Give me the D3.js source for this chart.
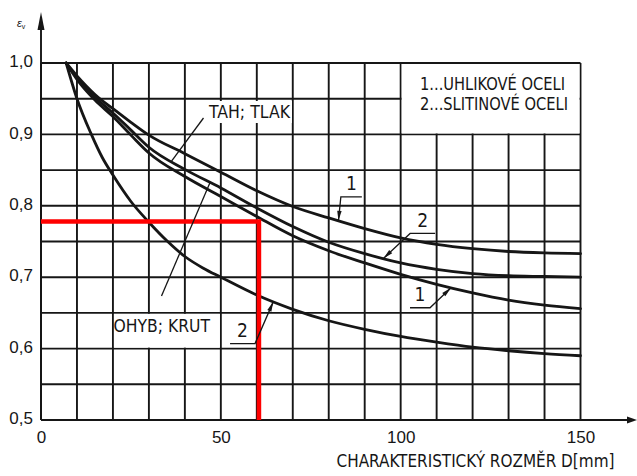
<!DOCTYPE html>
<html>
<head>
<meta charset="utf-8">
<script src="https://cdn.jsdelivr.net/npm/d3@7"></script>
<style>
  html, body { margin: 0; padding: 0; background: #fff; }
  svg { display: block; }
</style>
</head>
<body>
<script>
// Size factor ε_v versus characteristic dimension D [mm]
const sizeD       = [7, 10, 15, 20, 25, 30, 40, 50, 60, 70, 80, 90, 100, 110, 120, 130, 140, 150];
const tahCarbon   = [1.0, 0.982, 0.956, 0.936, 0.917, 0.899, 0.873, 0.847, 0.821, 0.799, 0.783, 0.768, 0.755, 0.746, 0.740, 0.736, 0.734, 0.733];
const tahAlloy    = [1.0, 0.979, 0.952, 0.930, 0.906, 0.882, 0.851, 0.825, 0.797, 0.771, 0.749, 0.733, 0.720, 0.711, 0.705, 0.702, 0.701, 0.700];
const ohybCarbon  = [1.0, 0.977, 0.948, 0.925, 0.899, 0.874, 0.841, 0.813, 0.785, 0.758, 0.737, 0.720, 0.704, 0.690, 0.678, 0.668, 0.661, 0.656];
const sizeDBend   = [7, 10, 14, 17, 20, 25, 30, 35, 40, 45, 50, 60, 70, 80, 90, 100, 110, 120, 130, 140, 150];
const ohybAlloy   = [1.0, 0.950, 0.900, 0.868, 0.843, 0.806, 0.777, 0.751, 0.729, 0.713, 0.700, 0.675, 0.655, 0.639, 0.627, 0.617, 0.609, 0.602, 0.597, 0.593, 0.590];

const xTicks = [0, 50, 100, 150];
const yTicks = [0.5, 0.6, 0.7, 0.8, 0.9, 1.0];
const xGrid  = d3.range(0, 151, 10);
const yGrid  = d3.range(0, 11).map(i => 0.5 + i * 0.05);

// worked example: D ≈ 60.6 mm → ε_v ≈ 0.778
const readD = 60.6;
const readEps = 0.778;

const legendLines = ["1...UHLIKOVÉ  OCELI", "2...SLITINOVÉ  OCELI"];
const axisTitle = "CHARAKTERISTICKÝ  ROZMĚR  D[mm]";

const W = 637, H = 476;
const x = d3.scaleLinear().domain([0, 150]).range([41, 580.5]);
const y = d3.scaleLinear().domain([0.5, 1.0]).range([420, 63]);

const svg = d3.select("body").append("svg").attr("width", W).attr("height", H);
svg.append("rect").attr("width", W).attr("height", H).attr("fill", "#fff");

const ink = "#161616";
const narrow = "'Liberation Sans Narrow', 'DejaVu Sans Condensed', 'Liberation Sans', Arial, sans-serif";
const plain = "'Liberation Sans', Arial, sans-serif";

// grid
const grid = svg.append("g").attr("stroke", ink).attr("stroke-width", 1.9);
grid.selectAll("line.v").data(xGrid).join("line")
  .attr("x1", d => x(d)).attr("x2", d => x(d))
  .attr("y1", y(0.5)).attr("y2", y(1.0));
grid.selectAll("line.h").data(yGrid).join("line")
  .attr("x1", x(0)).attr("x2", x(150))
  .attr("y1", d => y(d)).attr("y2", d => y(d));

// blank areas: legend box, bending/torsion label cell, tension label background
svg.append("rect")
  .attr("x", x(100) + 1).attr("y", y(1.0) + 1)
  .attr("width", x(150) - x(100) - 2).attr("height", y(0.9) - y(1.0) - 2)
  .attr("fill", "#fff");
svg.append("rect")
  .attr("x", x(20) + 1).attr("y", y(0.65) + 1)
  .attr("width", x(50) - x(20) - 2).attr("height", y(0.6) - y(0.65) - 2)
  .attr("fill", "#fff");
svg.append("rect").attr("x", 206).attr("y", 101).attr("width", 86).attr("height", 22).attr("fill", "#fff");

// axes lines with arrows
svg.append("line").attr("x1", x(0)).attr("x2", x(0)).attr("y1", y(0.5)).attr("y2", 28)
  .attr("stroke", ink).attr("stroke-width", 1.9);
svg.append("path").attr("d", `M${x(0)},12 L${x(0) - 3.5},30 L${x(0) + 3.5},30 Z`).attr("fill", ink);
svg.append("line").attr("x1", x(0)).attr("x2", 628).attr("y1", y(0.5)).attr("y2", y(0.5))
  .attr("stroke", ink).attr("stroke-width", 1.9);
svg.append("path").attr("d", `M637,${y(0.5)} L627,${y(0.5) - 3.5} L627,${y(0.5) + 3.5} Z`).attr("fill", ink);

// tick labels
const fmt = d => d.toFixed(1).replace(".", ",");
const yAxis = svg.append("g").attr("transform", `translate(${x(0)},0)`)
  .call(d3.axisLeft(y).tickValues(yTicks).tickSize(0).tickPadding(8).tickFormat(fmt));
yAxis.select(".domain").remove();
yAxis.selectAll("text").attr("font-family", plain).attr("font-size", 17).attr("fill", ink).attr("dy", "0.22em");

const xAxis = svg.append("g").attr("transform", `translate(0,${y(0.5)})`)
  .call(d3.axisBottom(x).tickValues(xTicks).tickSize(0).tickPadding(11).tickFormat(d3.format("d")));
xAxis.select(".domain").remove();
xAxis.selectAll("text").attr("font-family", plain).attr("font-size", 17).attr("fill", ink);

// axis titles
svg.append("text").attr("x", 336.5).attr("y", 467)
  .attr("font-family", narrow).attr("font-size", 18).attr("fill", ink)
  .attr("textLength", 278).attr("lengthAdjust", "spacingAndGlyphs")
  .text(axisTitle);
const eps = svg.append("text").attr("x", 17).attr("y", 27)
  .attr("font-family", plain).attr("font-style", "italic").attr("font-size", 11).attr("fill", ink);
eps.append("tspan").text("ε");
eps.append("tspan").attr("font-size", 7).attr("dy", 2).attr("font-style", "normal").text("v");

// curves
const line = d3.line().x(d => x(d[0])).y(d => y(d[1])).curve(d3.curveMonotoneX);
const series = [
  d3.zip(sizeD, tahCarbon),
  d3.zip(sizeD, tahAlloy),
  d3.zip(sizeD, ohybCarbon),
  d3.zip(sizeDBend, ohybAlloy)
];
svg.append("g").selectAll("path").data(series).join("path")
  .attr("d", line).attr("fill", "none").attr("stroke", ink)
  .attr("stroke-width", 2.8).attr("stroke-linejoin", "round").attr("stroke-linecap", "round");

// red reading lines
svg.append("path")
  .attr("d", `M${x(0)},${y(readEps)} L${x(readD)},${y(readEps)} L${x(readD)},${y(0.5)}`)
  .attr("fill", "none").attr("stroke", "#ff0000").attr("stroke-width", 4.5).attr("stroke-linejoin", "miter");

// helpers for annotations
const valueAt = (xs, ys, d) => {
  const i = Math.max(1, d3.bisectLeft(xs, d));
  const t = (d - xs[i - 1]) / (xs[i] - xs[i - 1]);
  return ys[i - 1] + t * (ys[i] - ys[i - 1]);
};
const arrowHead = (x1, y1, x2, y2, len, half) => {
  const dx = x2 - x1, dy = y2 - y1, L = Math.hypot(dx, dy);
  const ux = dx / L, uy = dy / L;
  const bx = x2 - ux * len, by = y2 - uy * len;
  return `M${x2},${y2} L${bx - uy * half},${by + ux * half} L${bx + uy * half},${by - ux * half} Z`;
};
const ann = svg.append("g");

// curve number tags: tip on curve, elbow offset, underline direction
const tags = [
  { label: "1", xs: sizeD, ys: tahCarbon, d: 82.7, ex: 2.4, ey: -24, ul: 21 },
  { label: "2", xs: sizeD, ys: tahAlloy, d: 95.2, ex: 26.7, ey: -25, ul: 25 },
  { label: "1", xs: sizeD, ys: ohybCarbon, d: 114, ex: -21, ey: 20, ul: -20 },
  { label: "2", xs: sizeDBend, ys: ohybAlloy, d: 64.6, ex: -18.3, ey: 42, ul: -25 }
];
tags.forEach(t => {
  const tx = x(t.d), ty = y(valueAt(t.xs, t.ys, t.d));
  const exn = tx + t.ex, eyn = ty + t.ey;
  ann.append("path")
    .attr("d", `M${exn + t.ul},${eyn} L${exn},${eyn} L${tx},${ty}`)
    .attr("fill", "none").attr("stroke", ink).attr("stroke-width", 1.3);
  ann.append("path").attr("d", arrowHead(exn, eyn, tx, ty, 10, 2.2)).attr("fill", ink);
  ann.append("text")
    .attr("x", exn + t.ul / 2).attr("y", eyn - 6.5)
    .attr("text-anchor", "middle")
    .attr("font-family", narrow).attr("font-size", 19).attr("fill", ink)
    .text(t.label);
});

// load-type labels with leaders
const tahTip = { d: 36.3 };
ann.append("line")
  .attr("x1", 203.5).attr("y1", 118)
  .attr("x2", x(tahTip.d)).attr("y2", y(valueAt(sizeD, tahAlloy, tahTip.d)))
  .attr("stroke", ink).attr("stroke-width", 1.3);
ann.append("text").attr("x", 209).attr("y", 117.5)
  .attr("font-family", narrow).attr("font-size", 18.5).attr("fill", ink)
  .attr("textLength", 81).attr("lengthAdjust", "spacingAndGlyphs")
  .text("TAH;  TLAK");

const ohybTip = { d: 47 };
ann.append("line")
  .attr("x1", 161.5).attr("y1", 296)
  .attr("x2", x(ohybTip.d)).attr("y2", y(valueAt(sizeD, tahAlloy, ohybTip.d)))
  .attr("stroke", ink).attr("stroke-width", 1.3);
ann.append("text").attr("x", 113.5).attr("y", 331.8)
  .attr("font-family", narrow).attr("font-size", 18.5).attr("fill", ink)
  .attr("textLength", 96.5).attr("lengthAdjust", "spacingAndGlyphs")
  .text("OHYB;  KRUT");

// legend text
svg.append("g").selectAll("text").data(legendLines).join("text")
  .attr("x", 420).attr("y", (d, i) => 89.5 + i * 20.5)
  .attr("font-family", narrow).attr("font-size", 17).attr("fill", ink)
  .attr("textLength", (d, i) => i === 0 ? 145 : 148).attr("lengthAdjust", "spacingAndGlyphs")
  .text(d => d);
</script>
</body>
</html>
